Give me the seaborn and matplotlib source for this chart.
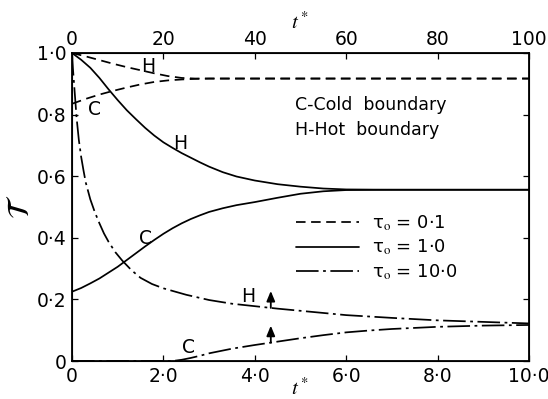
import numpy as np
import pandas as pd
import matplotlib
matplotlib.use("Agg")
import matplotlib.pyplot as plt
import seaborn as sns

# Dimensionless boundary temperature versus dimensionless time t*
# for three optical thicknesses tau_0 (H = hot boundary, C = cold boundary).

# tau_0 = 0.1
t_01 = [0.0, 0.3, 0.6, 0.9, 1.2, 1.5, 1.8, 2.1, 2.4, 2.7, 3.0, 4.0, 6.0, 8.0, 10.0]
hot_01 = [1.0, 0.989, 0.977, 0.965, 0.954, 0.944, 0.934, 0.925, 0.919, 0.917, 0.917,
          0.917, 0.917, 0.917, 0.917]
cold_01 = [0.835, 0.851, 0.865, 0.877, 0.888, 0.898, 0.906, 0.911, 0.914, 0.916, 0.917,
           0.917, 0.917, 0.917, 0.917]

# tau_0 = 1.0
t_1 = [0.0, 0.2, 0.4, 0.6, 0.8, 1.0, 1.2, 1.4, 1.6, 1.8, 2.0, 2.2, 2.4, 2.6, 2.8, 3.0,
       3.3, 3.6, 4.0, 4.5, 5.0, 5.5, 6.0, 7.0, 8.0, 10.0]
hot_1 = [1.0, 0.978, 0.952, 0.919, 0.882, 0.847, 0.814, 0.785, 0.757, 0.732, 0.710,
         0.692, 0.675, 0.660, 0.645, 0.631, 0.613, 0.599, 0.586, 0.574, 0.566, 0.560,
         0.557, 0.556, 0.556, 0.556]
cold_1 = [0.225, 0.237, 0.252, 0.268, 0.287, 0.306, 0.328, 0.350, 0.372, 0.393, 0.413,
          0.431, 0.447, 0.461, 0.473, 0.484, 0.496, 0.506, 0.516, 0.530, 0.543, 0.551,
          0.555, 0.556, 0.556, 0.556]

# tau_0 = 10.0
t_10h = [0.0, 0.02, 0.05, 0.1, 0.15, 0.2, 0.25, 0.3, 0.4, 0.5, 0.6, 0.7, 0.8, 0.95, 1.1,
         1.3, 1.5, 1.75, 2.0, 2.5, 3.0, 3.5, 4.0, 4.5, 5.0, 5.5, 6.0, 7.0, 8.0, 9.0, 10.0]
hot_10 = [1.0, 0.95, 0.89, 0.79, 0.717, 0.663, 0.620, 0.580, 0.525, 0.483, 0.447, 0.414,
          0.387, 0.353, 0.326, 0.295, 0.270, 0.250, 0.236, 0.215, 0.198, 0.186, 0.178,
          0.170, 0.163, 0.156, 0.149, 0.140, 0.132, 0.127, 0.122]
t_10c = [0.0, 1.0, 2.2, 2.4, 2.6, 2.8, 3.0, 3.5, 4.0, 4.5, 5.0, 5.5, 6.0, 6.5, 7.0, 8.0,
         9.0, 10.0]
cold_10 = [0.0, 0.0, 0.0, 0.004, 0.010, 0.017, 0.025, 0.040, 0.052, 0.063, 0.074, 0.084,
           0.093, 0.099, 0.104, 0.111, 0.115, 0.117]

x_ticks = [0, 2, 4, 6, 8, 10]
x_labels = ["0", "2·0", "4·0", "6·0", "8·0", "10·0"]
top_ticks = [0, 20, 40, 60, 80, 100]
top_labels = ["0", "20", "40", "60", "80", "100"]
y_ticks = [0, 0.2, 0.4, 0.6, 0.8, 1.0]
y_labels = ["0", "0·2", "0·4", "0·6", "0·8", "1·0"]
legend_labels = [r"τ$_\mathrm{o}$ = 0·1", r"τ$_\mathrm{o}$ = 1·0", r"τ$_\mathrm{o}$ = 10·0"]
arrow_t = 4.35

sns.set_style("ticks")
plt.rcParams["font.family"] = ["DejaVu Sans"]
plt.rcParams["mathtext.fontset"] = "stix"
for key in ("text.color", "axes.labelcolor", "xtick.color", "ytick.color",
            "axes.edgecolor"):
    plt.rcParams[key] = "black"

fig = plt.figure(figsize=(5.48, 3.99), dpi=100)
ax = fig.add_axes([0.1314, 0.0952, 0.8339, 0.7720])

dash = (0, (5.5, 3.2))
dashdot = (0, (13, 2.6, 1.6, 2.6))
lw = 1.25

series = [
    (t_01, hot_01, dash, legend_labels[0]),
    (t_01, cold_01, dash, None),
    (t_1, hot_1, "-", legend_labels[1]),
    (t_1, cold_1, "-", None),
    (t_10h, hot_10, dashdot, legend_labels[2]),
    (t_10c, cold_10, dashdot, None),
]
handles = []
for tx, yv, ls, lab in series:
    df = pd.DataFrame({"t": tx, "T": yv})
    sns.lineplot(data=df, x="t", y="T", ax=ax, color="black", linestyle=ls,
                 linewidth=lw, estimator=None, sort=True, legend=False)
    if lab is not None:
        handles.append(ax.lines[-1])

ax.set_xlim(0, 10)
ax.set_ylim(0, 1.0)
ax.set_xticks(x_ticks)
ax.set_xticklabels(x_labels)
ax.set_yticks(y_ticks)
ax.set_yticklabels(y_labels)
ax.tick_params(axis="both", direction="in", length=4, width=0.9, labelsize=13.5,
               pad=4, right=True, colors="black")
ax.set_xlabel(r"$t^*$", fontsize=15, labelpad=-6)
ax.set_ylabel(r"$\mathcal{T}$", fontsize=22, labelpad=1)
for sp in ax.spines.values():
    sp.set_linewidth(1.3)
    sp.set_color("black")

top = ax.twiny()
top.set_xlim(0, 100)
top.set_xticks(top_ticks)
top.set_xticklabels(top_labels)
top.tick_params(axis="x", direction="in", length=4, width=0.9, labelsize=13.5, pad=3,
                colors="black")
top.set_xlabel(r"$t^*$", fontsize=15, labelpad=1)

# Curve annotations
lab_kw = dict(fontsize=13.5, ha="center", va="center", color="black")
ax.text(1.66, 0.955, "H", **lab_kw)
ax.text(0.50, 0.818, "C", **lab_kw)
ax.text(2.36, 0.707, "H", **lab_kw)
ax.text(1.60, 0.397, "C", **lab_kw)
ax.text(3.86, 0.211, "H", **lab_kw)
ax.text(2.55, 0.045, "C", **lab_kw)

ax.text(4.88, 0.831, "C-Cold  boundary", fontsize=12.5, ha="left", va="center")
ax.text(4.88, 0.750, "H-Hot  boundary", fontsize=12.5, ha="left", va="center")

# Arrows marking the tau_0 = 10 curves
for tv, yv in ((t_10h, hot_10), (t_10c, cold_10)):
    y0 = float(np.interp(arrow_t, tv, yv))
    ax.annotate("", xy=(arrow_t, y0 + 0.055), xytext=(arrow_t, y0),
                arrowprops=dict(arrowstyle="-|>,head_width=0.25,head_length=0.6",
                                color="black", lw=1.3, shrinkA=0, shrinkB=0,
                                mutation_scale=10))

ax.legend(handles=handles, labels=legend_labels, loc="upper left",
          bbox_to_anchor=(0.49, 0.48), frameon=False, fontsize=13,
          handlelength=3.5, handletextpad=0.7, labelspacing=0.3,
          borderaxespad=0, borderpad=0)

fig.savefig("out.png", dpi=100)
